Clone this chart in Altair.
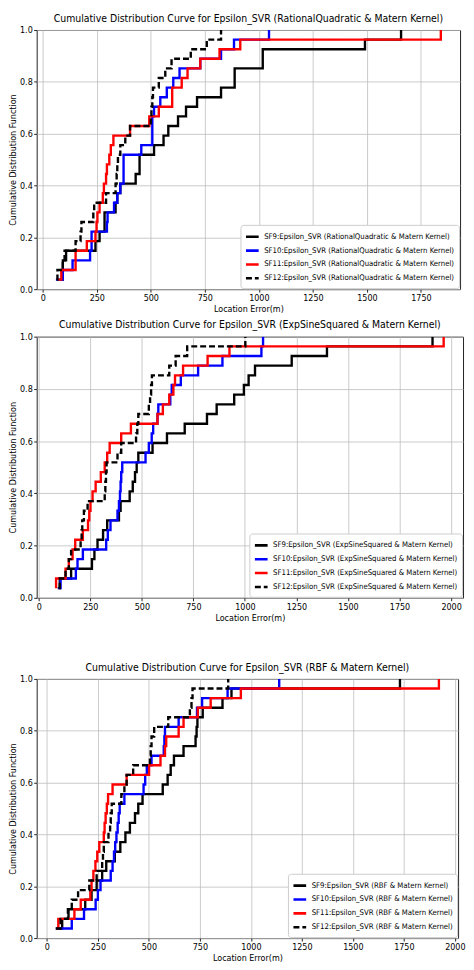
import altair as alt
import pandas as pd

FONT = "Liberation Sans Narrow, DejaVu Sans Condensed, Arial Narrow, sans-serif"

# ---- Panel 1: RationalQuadratic & Matern ----
P1_TITLE = "Cumulative Distribution Curve for Epsilon_SVR (RationalQuadratic & Matern Kernel)"
P1_NAMES = [
    "SF9:Epsilon_SVR (RationalQuadratic & Matern Kernel)",
    "SF10:Epsilon_SVR (RationalQuadratic & Matern Kernel)",
    "SF11:Epsilon_SVR (RationalQuadratic & Matern Kernel)",
    "SF12:Epsilon_SVR (RationalQuadratic & Matern Kernel)",
]
P1_SF9 = [78, 93, 93, 108, 244, 263, 286, 286, 337, 345, 359, 430, 448, 448, 515, 559, 581, 626, 663, 714, 825, 888, 888, 1018, 1018, 1491, 1658]
P1_SF10 = [61, 93, 138, 219, 226, 226, 297, 300, 330, 345, 359, 374, 374, 374, 456, 507, 507, 507, 515, 544, 574, 604, 633, 729, 825, 885, 1047]
P1_SF11 = [71, 86, 152, 152, 204, 244, 249, 253, 263, 278, 283, 293, 297, 308, 315, 327, 404, 493, 537, 599, 599, 643, 670, 729, 818, 914, 1842]
P1_SF12 = [64, 68, 93, 101, 152, 175, 179, 234, 238, 293, 337, 342, 345, 348, 359, 382, 404, 500, 503, 507, 510, 537, 567, 596, 685, 759, 825]
P1_XDOM = [-28, 1931]
P1_TICKS = [0, 250, 500, 750, 1000, 1250, 1500, 1750]

# ---- Panel 2: ExpSineSquared & Matern ----
P2_TITLE = "Cumulative Distribution Curve for Epsilon_SVR (ExpSineSquared & Matern Kernel)"
P2_NAMES = [
    "SF9:Epsilon_SVR (ExpSineSquared & Matern Kernel)",
    "SF10:Epsilon_SVR (ExpSineSquared & Matern Kernel)",
    "SF11:Epsilon_SVR (ExpSineSquared & Matern Kernel)",
    "SF12:Epsilon_SVR (ExpSineSquared & Matern Kernel)",
]
P2_SF9 = [92, 102, 157, 258, 270, 285, 312, 332, 389, 397, 441, 456, 467, 475, 483, 552, 622, 708, 816, 863, 948, 995, 1018, 1049, 1227, 1398, 1910]
P2_SF10 = [95, 106, 180, 188, 214, 327, 335, 348, 382, 389, 394, 397, 400, 405, 518, 534, 548, 555, 576, 580, 638, 645, 689, 773, 891, 1080, 1088]
P2_SF11 = [84, 84, 130, 146, 164, 177, 214, 239, 245, 251, 261, 276, 301, 320, 332, 344, 400, 447, 576, 602, 633, 653, 661, 700, 819, 925, 1964]
P2_SF12 = [99, 102, 130, 146, 157, 203, 208, 211, 219, 237, 320, 323, 326, 329, 382, 400, 472, 478, 483, 534, 540, 545, 549, 633, 664, 720, 1002]
P2_XDOM = [-10, 2058]
P2_TICKS = [0, 250, 500, 750, 1000, 1250, 1500, 1750, 2000]

# ---- Panel 3: RBF & Matern ----
P3_TITLE = "Cumulative Distribution Curve for Epsilon_SVR (RBF & Matern Kernel)"
P3_NAMES = [
    "SF9:Epsilon_SVR (RBF & Matern Kernel)",
    "SF10:Epsilon_SVR (RBF & Matern Kernel)",
    "SF11:Epsilon_SVR (RBF & Matern Kernel)",
    "SF12:Epsilon_SVR (RBF & Matern Kernel)",
]
P3_SF9 = [44, 75, 106, 188, 219, 244, 271, 291, 333, 360, 385, 407, 432, 448, 469, 568, 592, 607, 623, 670, 729, 734, 738, 764, 861, 905, 1731]
P3_SF10 = [44, 122, 182, 239, 250, 263, 313, 322, 329, 335, 341, 347, 352, 357, 380, 474, 482, 490, 513, 573, 576, 579, 646, 736, 761, 886, 1139]
P3_SF11 = [47, 56, 135, 166, 213, 219, 228, 238, 247, 257, 279, 283, 288, 294, 300, 322, 391, 501, 557, 579, 585, 646, 670, 740, 803, 951, 1922]
P3_SF12 = [44, 67, 103, 122, 153, 208, 244, 271, 275, 279, 302, 310, 313, 318, 365, 380, 391, 423, 505, 509, 513, 526, 595, 701, 709, 714, 889]
P3_XDOM = [-50, 2016]
P3_TICKS = [0, 250, 500, 750, 1000, 1250, 1500, 1750, 2000]

Y_TICKS = [0.0, 0.2, 0.4, 0.6, 0.8, 1.0]
COLORS = ["black", "blue", "red", "black"]
DASHES = [[1, 0], [1, 0], [1, 0], [6, 3]]


def panel_df(lists, names):
    rows = []
    for name, vals in zip(names, lists):
        n = len(vals)
        for i, v in enumerate(sorted(vals)):
            rows.append({"err": v, "cdf": (i + 1) / n, "series": name, "idx": i})
    return pd.DataFrame(rows)


def make_panel(lists, names, title, xdom, xticks, w, h):
    df = panel_df(lists, names)
    leg = alt.Legend(
        title=None, orient="bottom-right", offset=1,
        fillColor="white", strokeColor="#cccccc", cornerRadius=3, padding=4,
        symbolType="stroke", symbolSize=165, symbolStrokeWidth=2.6,
        labelFont=FONT, labelFontSize=7.8, labelLimit=400, rowPadding=0,
        labelColor="black", labelOffset=4,
    )
    color = alt.Color("series:N", scale=alt.Scale(domain=names, range=COLORS), legend=leg)
    dash = alt.StrokeDash("series:N", scale=alt.Scale(domain=names, range=DASHES), legend=leg)
    x = alt.X("err:Q", scale=alt.Scale(domain=xdom, nice=False, zero=False),
              axis=alt.Axis(values=xticks, title="Location Error(m)", format="d"))
    y = alt.Y("cdf:Q", scale=alt.Scale(domain=[0, 1], nice=False),
              axis=alt.Axis(values=Y_TICKS, format=".1f", title="Cumulative Distribution Function"))
    layers = []
    for name in names:
        layers.append(
            alt.Chart(df)
            .transform_filter(alt.datum.series == name)
            .mark_line(interpolate="step-after", strokeWidth=2.4, clip=True)
            .encode(x=x, y=y, color=color, strokeDash=dash, order="idx:Q")
        )
    return alt.layer(*layers).properties(
        width=w, height=h,
        title=alt.TitleParams(title, fontSize=10.5, font=FONT, fontWeight="normal", color="black", offset=2),
    )


p1 = make_panel([P1_SF9, P1_SF10, P1_SF11, P1_SF12], P1_NAMES, P1_TITLE, P1_XDOM, P1_TICKS, 428, 262)
p2 = make_panel([P2_SF9, P2_SF10, P2_SF11, P2_SF12], P2_NAMES, P2_TITLE, P2_XDOM, P2_TICKS, 431, 264)
p3 = make_panel([P3_SF9, P3_SF10, P3_SF11, P3_SF12], P3_NAMES, P3_TITLE, P3_XDOM, P3_TICKS, 426, 262)

RES = dict(x="independent", y="independent", color="independent", strokeDash="independent")

top = alt.vconcat(p1, p2, spacing=6).resolve_scale(**RES).resolve_legend(color="independent", strokeDash="independent")
chart = (
    alt.vconcat(top, p3, spacing=40)
    .resolve_scale(**RES)
    .resolve_legend(color="independent", strokeDash="independent")
    .properties(padding=0)
    .configure_view(stroke="#222222", strokeWidth=1)
    .configure_axis(
        labelFont=FONT, titleFont=FONT, labelFontSize=9, titleFontSize=9,
        labelColor="black", titleColor="black", titleFontWeight="normal",
        grid=True, gridColor="#bdbdbd", gridWidth=0.8,
        domain=False, tickColor="#222222", tickSize=3, labelPadding=1.5, titlePadding=2,
    )
    .configure_axisY(titlePadding=2)
)

chart.save("out.html", embed_options={"renderer": "svg", "actions": False})
